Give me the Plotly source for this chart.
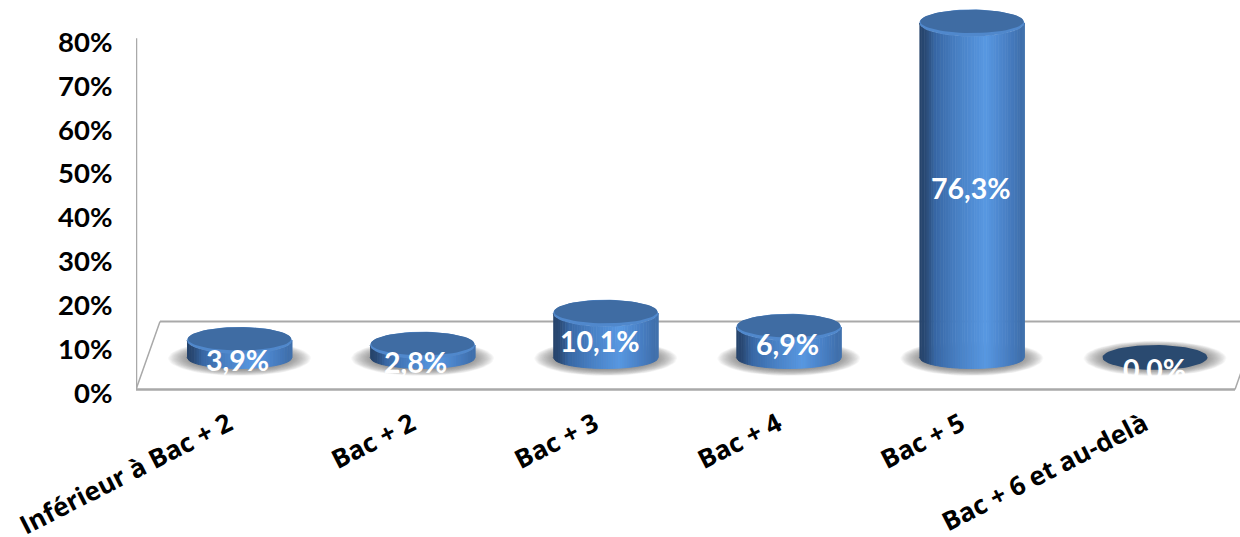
import numpy as np
import plotly.graph_objects as go

categories = ["Inférieur à Bac + 2", "Bac + 2", "Bac + 3", "Bac + 4", "Bac + 5", "Bac + 6 et au-delà"]
values = [3.9, 2.8, 10.1, 6.9, 76.3, 0.0]
value_labels = ["3,9%", "2,8%", "10,1%", "6,9%", "76,3%", "0,0%"]
y_ticks = [0, 10, 20, 30, 40, 50, 60, 70, 80]
y_tick_labels = ["0%", "10%", "20%", "30%", "40%", "50%", "60%", "70%", "80%"]
label_shift_y = [-11, -11, -6, -2, 2, -12]
label_shift_x = [-2, -7, -6, -1, -1, -1]

FONT = "Lato"
XFONT = "Open Sans"
W, H = 1240, 537
PX_X = 183.1
PX_Y = 4.39
x0_px, zero_px = 239.5, 393.5
left_px = 136
x_range = [(left_px - x0_px) / PX_X, (W - x0_px) / PX_X]
y_range = [0, zero_px / PX_Y]
RX = 52.5 / PX_X
RY = 13.5 / PX_Y
RY_BOTTOM = 11.0 / PX_Y
BASE = 8.1  # depth of the floor, in axis units

t_stops = [0.0, 0.05, 0.14, 0.35, 0.62, 0.85, 0.97, 1.0]
rgb_stops = np.array([[38, 68, 108], [42, 74, 118], [56, 104, 166], [72, 128, 196],
                      [88, 152, 226], [70, 124, 192], [62, 110, 170], [74, 124, 184]], float)


def body_colour(t):
    c = [np.interp(t, t_stops, rgb_stops[:, k]) for k in range(3)]
    return "rgb(%d,%d,%d)" % tuple(int(v) for v in c)


def ellipse(cx, cy, rx, ry, n=60):
    a = np.linspace(0, 2 * np.pi, n)
    return cx + rx * np.cos(a), cy + ry * np.sin(a)


def add_poly(fig, polys, colour, line=0.0):
    xs, ys = [], []
    for px, py in polys:
        xs += list(px) + [None]
        ys += list(py) + [None]
    fig.add_trace(go.Scatter(x=xs, y=ys, mode="lines", fill="toself", fillcolor=colour,
                             line=dict(width=line, color=colour), hoverinfo="skip", showlegend=False))


fig = go.Figure()

# soft shadows round the bases
LAYERS = 20
for k in range(LAYERS):
    f = 1 - k / LAYERS
    polys = [ellipse(i, BASE - 0.2, RX * (0.92 + 0.44 * f), RY * (0.80 + 0.50 * f)) for i in range(len(values))]
    add_poly(fig, polys, "rgba(105,105,105,0.055)")

# cylinder bodies as vertical strips with a left-to-right shading
N = 44
edges = np.linspace(-1, 1, N + 1)
standing = [i for i, v in enumerate(values) if v > 0]
for s in range(N):
    a, b = edges[s], edges[s + 1]
    polys = []
    xx = np.linspace(a, b, 3)
    shape = np.sqrt(np.clip(1 - xx ** 2, 0, 1))
    for i in standing:
        top = BASE + values[i]
        polys.append((np.r_[i + xx * RX, i + xx[::-1] * RX],
                      np.r_[BASE - shape * RY_BOTTOM, (top - shape * RY)[::-1]]))
    add_poly(fig, polys, body_colour((a + 1) / 2), line=1.0)

# top faces with a lighter bevel
add_poly(fig, [ellipse(i, BASE + values[i], RX, RY) for i in standing], "#5088cc")
add_poly(fig, [ellipse(i, BASE + values[i] + 0.35, RX * 0.985, RY * 0.86) for i in standing], "#3f6ca3")
flat = [i for i, v in enumerate(values) if v == 0]
add_poly(fig, [ellipse(i, BASE + values[i], RX, RY * 0.92) for i in flat], "#2a4a70")

# wall and floor
g = "#a9a9a9"
dx = 24 / PX_X
fy0, fy1 = 3.5 / PX_Y, (zero_px - 322) / PX_Y
fl, fr = x_range[0], x_range[0] + 1099 / PX_X
shapes = [
    dict(type="line", x0=fl, x1=fl, y0=fy0, y1=80.9, line=dict(color=g, width=2.5)),
    dict(type="line", x0=fl, x1=fr, y0=fy0, y1=fy0, line=dict(color=g, width=2.5)),
    dict(type="line", x0=fl + dx, x1=fr + dx, y0=fy1, y1=fy1, line=dict(color=g, width=2)),
    dict(type="line", x0=fl, x1=fl + dx, y0=fy0, y1=fy1, line=dict(color=g, width=1.5)),
    dict(type="line", x0=fr, x1=fr + dx, y0=fy0, y1=fy1, line=dict(color=g, width=1.5)),
]
for sh in shapes:
    sh.update(layer="below", xref="x", yref="y")

annotations = [
    dict(x=i, y=BASE + values[i] / 2, text=f"<b>{value_labels[i]}</b>", showarrow=False,
         yshift=label_shift_y[i], xshift=label_shift_x[i],
         font=dict(family=FONT, size=28.5, color="white"), xref="x", yref="y")
    for i in range(len(values))
]

fig.update_layout(
    width=W, height=H, margin=dict(l=left_px, r=0, t=0, b=H - zero_px, pad=0),
    paper_bgcolor="white", plot_bgcolor="white", showlegend=False,
    shapes=shapes, annotations=annotations,
    font=dict(family=FONT, color="black"),
    xaxis=dict(range=x_range, tickmode="array", tickvals=[i - 0.06 for i in range(len(categories))],
               ticktext=[f"<b>{c}</b>" for c in categories], tickangle=-27, showgrid=False, zeroline=False,
               showline=False, ticks="outside", ticklen=5, tickcolor="rgba(0,0,0,0)",
               tickfont=dict(family=XFONT, size=26, color="black"), automargin=False),
    yaxis=dict(range=y_range, tickmode="array", tickvals=y_ticks,
               ticktext=[f"<b>{c}</b>" for c in y_tick_labels], showgrid=False, zeroline=False,
               showline=False, ticks="outside", ticklen=17, tickcolor="rgba(0,0,0,0)",
               tickfont=dict(family=FONT, size=27.5, color="black"), automargin=False),
)

fig.write_html("out.html", config=dict(displayModeBar=False))
with open("out.html", encoding="utf-8") as fh:
    page = fh.read()
page = page.replace("<body>", '<body style="margin:0;overflow:hidden">', 1)
with open("out.html", "w", encoding="utf-8") as fh:
    fh.write(page)
